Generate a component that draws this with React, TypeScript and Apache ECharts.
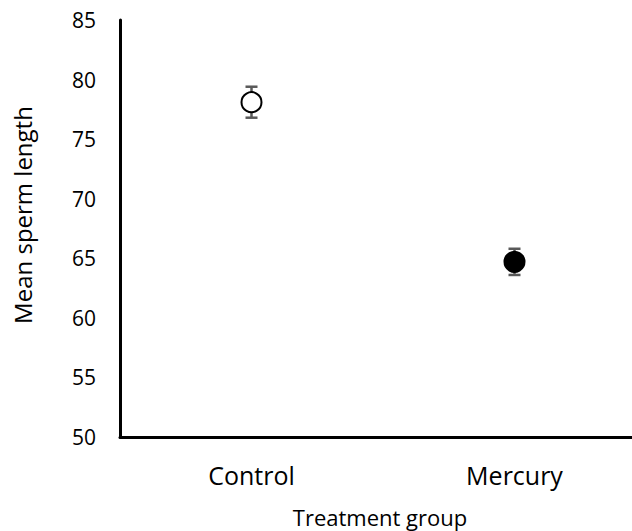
import React, { useEffect, useRef } from "react";
import * as echarts from "echarts";

const categories = ["Control", "Mercury"];
const means = [78.1, 64.7];
const errors = [1.3, 1.1];
const fills = ["#ffffff", "#000000"];
const yTicks = { min: 50, max: 85, interval: 5 };

export default function App() {
  const ref = useRef<HTMLDivElement>(null);
  useEffect(() => {
    document.body.style.margin = "0";
    const chart = echarts.init(ref.current!, null, { renderer: "svg" });
    const font = "Open Sans";
    chart.setOption({
      animation: false,
      grid: { left: 120, top: 20, width: 526, bottom: 94, containLabel: false, outerBoundsMode: "none" },
      xAxis: {
        type: "category",
        data: categories,
        axisLine: { lineStyle: { color: "#000", width: 3 } },
        axisTick: { show: false },
        axisLabel: { color: "#000", fontSize: 25, fontFamily: font, margin: 25 },
        name: "Treatment group",
        nameLocation: "middle",
        nameGap: 69,
        nameTextStyle: { color: "#000", fontSize: 22, fontFamily: font, padding: [0, 6, 0, 0] },
      },
      yAxis: {
        type: "value",
        min: yTicks.min,
        max: yTicks.max,
        interval: yTicks.interval,
        splitLine: { show: false },
        axisLine: { show: true, lineStyle: { color: "#000", width: 3 } },
        axisTick: { show: false },
        axisLabel: { color: "#000", fontSize: 21, fontFamily: font, margin: 24 },
        name: "Mean sperm length",
        nameLocation: "middle",
        nameGap: 86,
        nameTextStyle: { color: "#000", fontSize: 24, fontFamily: font, padding: [0, 0, 0, 27] },
      },
      series: [
        {
          type: "custom",
          renderItem: (params: any, api: any) => {
            const x = api.value(0);
            const top = api.coord([x, api.value(1)]);
            const bot = api.coord([x, api.value(2)]);
            const half = 6;
            const style = { stroke: "#595959", lineWidth: 2.5 };
            return {
              type: "group",
              children: [
                { type: "line", shape: { x1: top[0], y1: top[1], x2: bot[0], y2: bot[1] }, style },
                { type: "line", shape: { x1: top[0] - half, y1: top[1], x2: top[0] + half, y2: top[1] }, style },
                { type: "line", shape: { x1: bot[0] - half, y1: bot[1], x2: bot[0] + half, y2: bot[1] }, style },
              ],
            };
          },
          data: categories.map((_, i) => [i, means[i] + errors[i], means[i] - errors[i]]),
          z: 1,
        },
        {
          type: "scatter",
          symbol: "circle",
          symbolSize: 20,
          data: categories.map((c, i) => ({
            value: [i, means[i]],
            itemStyle: { color: fills[i], borderColor: "#000", borderWidth: 2, opacity: 1 },
          })),
          z: 2,
        },
      ],
    });
    return () => chart.dispose();
  }, []);
  return <div ref={ref} style={{ width: 632, height: 531 }} />;
}
